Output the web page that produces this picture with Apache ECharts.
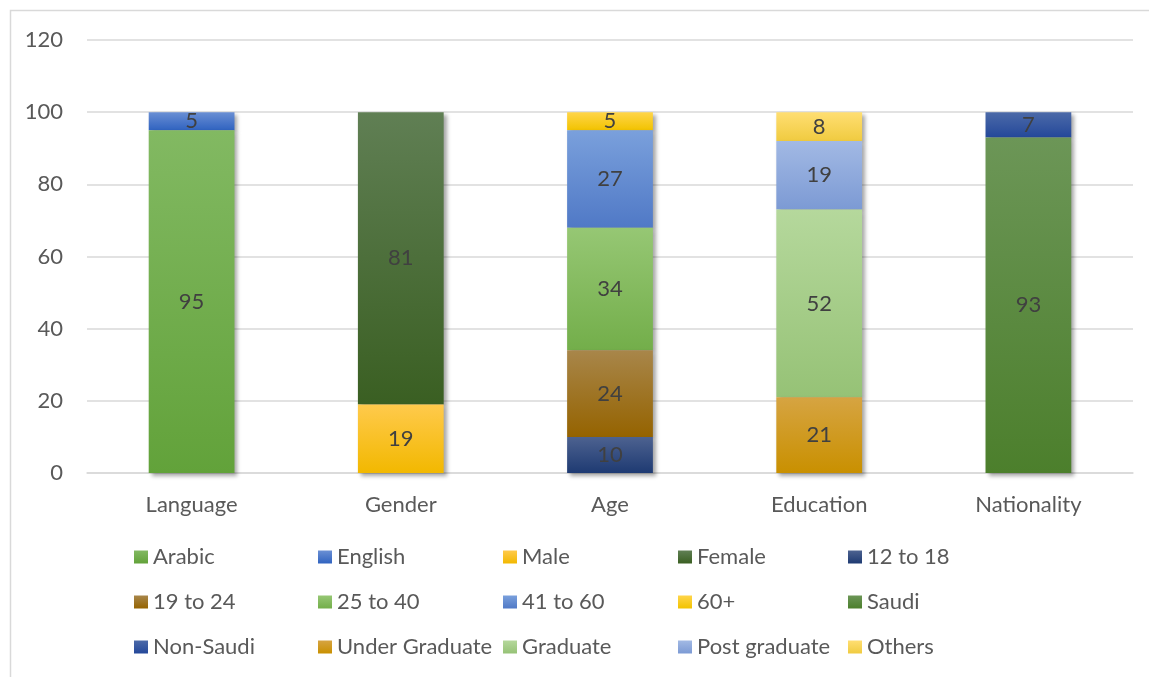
<!DOCTYPE html>
<html>
<head>
<meta charset="utf-8">
<script src="https://cdn.jsdelivr.net/npm/echarts@6/dist/echarts.min.js"></script>
<style>
html,body{margin:0;padding:0;background:#fff;}
#c{width:1149px;height:677px;}
</style>
</head>
<body>
<div id="c"></div>
<script>
var categories = ['Language', 'Gender', 'Age', 'Education', 'Nationality'];
var seriesNames = ['Arabic', 'English', 'Male', 'Female', '12 to 18',
                   '19 to 24', '25 to 40', '41 to 60', '60+', 'Saudi',
                   'Non-Saudi', 'Under Graduate', 'Graduate', 'Post graduate', 'Others'];
var arabic        = [95, null, null, null, null];
var english       = [5, null, null, null, null];
var male          = [null, 19, null, null, null];
var female        = [null, 81, null, null, null];
var age12to18     = [null, null, 10, null, null];
var age19to24     = [null, null, 24, null, null];
var age25to40     = [null, null, 34, null, null];
var age41to60     = [null, null, 27, null, null];
var age60plus     = [null, null, 5, null, null];
var saudi         = [null, null, null, null, 93];
var nonSaudi      = [null, null, null, null, 7];
var underGraduate = [null, null, null, 21, null];
var graduate      = [null, null, null, 52, null];
var postGraduate  = [null, null, null, 19, null];
var others        = [null, null, null, 8, null];
var yTicks = [0, 20, 40, 60, 80, 100, 120];

var seriesData = [arabic, english, male, female, age12to18, age19to24, age25to40,
                  age41to60, age60plus, saudi, nonSaudi, underGraduate, graduate,
                  postGraduate, others];

var gradColors = [
  ['#82b962', '#62a23a'],
  ['#6a8fd4', '#3063c0'],
  ['#ffca4c', '#f2b800'],
  ['#607f54', '#3a5f22'],
  ['#4d6290', '#1e3a72'],
  ['#a8864a', '#956300'],
  ['#96c774', '#73ae4a'],
  ['#7aa0dc', '#5079c6'],
  ['#ffd54a', '#f2c300'],
  ['#6c9657', '#4c7f2c'],
  ['#4c6aa8', '#24489a'],
  ['#d6a442', '#c99000'],
  ['#b5d89c', '#96c276'],
  ['#a2b9e4', '#7c9ad4'],
  ['#ffde72', '#f0cb40']
];

function grad(c) {
  return new echarts.graphic.LinearGradient(0, 0, 0, 1, [
    {offset: 0, color: c[0]}, {offset: 1, color: c[1]}
  ]);
}

var fontFam = 'Lato, "Open Sans", sans-serif';

var series = seriesNames.map(function (name, i) {
  return {
    name: name,
    type: 'bar',
    stack: 'total',
    barWidth: '41%',
    z: 100 - i,
    data: seriesData[i],
    itemStyle: {
      color: grad(gradColors[i]),
      shadowColor: 'rgba(0,0,0,0.35)',
      shadowBlur: 4,
      shadowOffsetX: 3,
      shadowOffsetY: 3
    },
    label: {
      show: true,
      position: 'inside',
      color: '#404040',
      fontSize: 22,
      fontFamily: fontFam
    }
  };
});

var colX = [134, 318, 503, 678, 848];
var rowY = [546, 591, 636];
var legends = seriesNames.map(function (name, i) {
  return {
    data: [name],
    left: colX[i % 5],
    top: rowY[Math.floor(i / 5)],
    itemWidth: 14,
    itemHeight: 13,
    itemGap: 0,
    icon: 'rect',
    selectedMode: false,
    padding: 0,
    textStyle: {color: '#595959', fontSize: 22, fontFamily: fontFam, padding: [0, 0, 0, 0]}
  };
});

var chart = echarts.init(document.getElementById('c'), null, {renderer: 'canvas'});
chart.setOption({
  animation: false,
  backgroundColor: '#fff',
  graphic: [{
    type: 'rect',
    shape: {x: 10.5, y: 10.5, width: 1200, height: 720},
    style: {fill: 'none', stroke: '#d9d9d9', lineWidth: 1.5},
    silent: true
  }],
  grid: {left: 87, right: 16, top: 40, bottom: 204},
  legend: legends,
  xAxis: {
    type: 'category',
    data: categories,
    axisLine: {show: true, lineStyle: {color: '#d9d9d9', width: 1.5}},
    axisTick: {show: false},
    axisLabel: {color: '#595959', fontSize: 22, fontFamily: fontFam, margin: 21}
  },
  yAxis: {
    type: 'value',
    min: yTicks[0],
    max: yTicks[yTicks.length - 1],
    interval: 20,
    axisLine: {show: false},
    axisTick: {show: false},
    splitLine: {lineStyle: {color: '#d9d9d9', width: 1.5}},
    axisLabel: {color: '#595959', fontSize: 22, fontFamily: fontFam, margin: 24}
  },
  series: series
});
</script>
</body>
</html>
